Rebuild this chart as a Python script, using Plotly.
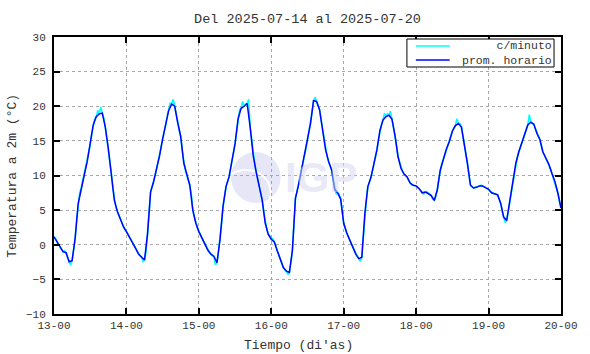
import plotly.graph_objects as go

# ---------------- data ----------------
day_labels = ["13-00", "14-00", "15-00", "16-00", "17-00", "18-00", "19-00", "20-00"]
day_values = [13, 14, 15, 16, 17, 18, 19, 20]
y_ticks = [-10, -5, 0, 5, 10, 15, 20, 25, 30]
series_names = ["c/minuto", "prom. horario"]

# hourly mean temperature (°C), hours 0..23 of each day
hr_d13 = [1.15, 0.4, -0.2, -1.0, -1.15, -2.45, -2.3, 0.9, 5.9, 8.2, 10.0, 12.0, 14.4, 17.3, 18.5, 18.9, 19.0, 17.0, 13.9, 10.3, 6.4, 4.8, 3.8, 2.6]
hr_d14 = [1.9, 1.15, 0.2, -0.5, -1.35, -1.8, -2.2, 1.6, 7.6, 9.1, 11.0, 12.9, 15.3, 17.3, 19.4, 20.3, 20.0, 17.6, 15.6, 11.8, 10.0, 8.6, 5.0, 3.1]
hr_d15 = [1.9, 1.05, 0.2, -0.8, -1.35, -1.7, -2.6, 0.7, 5.5, 8.4, 9.8, 12.0, 14.6, 18.2, 19.7, 20.0, 20.4, 17.0, 12.9, 10.5, 8.6, 6.4, 3.1, 1.5]
hr_d16 = [0.8, 0.4, -0.9, -2.2, -3.3, -3.8, -4.0, -0.8, 6.7, 8.6, 10.8, 12.7, 15.1, 17.5, 20.8, 20.7, 19.5, 16.6, 13.7, 12.0, 10.8, 8.0, 7.5, 6.6]
hr_d17 = [3.1, 1.7, 0.7, -0.2, -1.35, -2.0, -1.8, 4.5, 8.4, 9.7, 11.5, 13.7, 16.5, 18.0, 18.5, 18.7, 18.1, 15.8, 12.7, 11.0, 10.2, 9.8, 8.9, 8.6]
hr_d18 = [8.5, 8.1, 7.5, 7.6, 7.4, 7.1, 6.4, 7.9, 10.8, 12.3, 13.8, 14.9, 16.4, 17.2, 17.5, 17.0, 14.6, 11.7, 8.6, 8.2, 8.3, 8.5, 8.5, 8.3]
hr_d19 = [8.0, 7.5, 7.4, 7.2, 6.0, 4.0, 3.5, 6.2, 9.1, 11.7, 13.4, 14.7, 16.1, 17.3, 17.7, 17.4, 16.1, 15.2, 13.4, 12.5, 11.6, 10.3, 9.1, 7.4]
hr_end = 5.3  # value at 20-00

# per-minute readings sampled at the half hours (h + 0.5)
mn_d13 = [0.9, 0.0, -0.6, -0.9, -1.8, -2.9, -1.0, 3.5, 7.5, 9.2, 11.0, 13.2, 16.0, 18.2, 19.4, 19.9, 18.3, 15.5, 12.0, 8.2, 5.5, 4.3, 3.2, 2.2]
mn_d14 = [1.5, 0.6, -0.2, -1.0, -1.6, -2.4, -1.0, 4.5, 8.4, 10.0, 12.0, 14.1, 16.3, 18.5, 20.5, 21.0, 19.0, 16.5, 13.5, 10.8, 9.2, 7.3, 4.0, 2.5]
mn_d15 = [1.4, 0.6, -0.3, -1.1, -1.6, -2.9, -1.0, 3.0, 7.2, 9.1, 11.0, 13.3, 16.5, 19.5, 20.7, 20.3, 21.0, 15.0, 11.8, 9.5, 7.5, 4.7, 2.3, 1.3]
mn_d16 = [0.9, -0.2, -1.6, -2.8, -3.6, -4.3, -2.6, 3.0, 7.6, 9.7, 11.8, 13.9, 16.3, 19.2, 21.3, 20.2, 18.0, 15.0, 12.8, 11.4, 9.4, 7.3, 7.3, 4.8]
mn_d17 = [2.4, 1.2, 0.2, -0.8, -1.7, -2.4, 1.5, 6.5, 9.0, 10.6, 12.6, 15.1, 17.3, 19.0, 18.9, 19.3, 17.0, 14.3, 12.0, 10.6, 10.0, 9.3, 8.7, 8.6]
mn_d18 = [8.3, 7.8, 7.3, 7.7, 7.2, 6.6, 7.0, 9.5, 11.7, 13.0, 14.4, 15.7, 16.9, 18.2, 17.5, 15.8, 13.2, 10.0, 8.4, 8.3, 8.4, 8.6, 8.4, 8.1]
mn_d19 = [7.7, 7.4, 7.3, 6.6, 4.9, 3.2, 4.8, 7.6, 10.5, 12.6, 14.1, 15.5, 16.9, 18.8, 17.5, 16.8, 15.7, 14.3, 13.0, 12.0, 11.0, 9.6, 8.3, 6.2]

hourly_days = [hr_d13, hr_d14, hr_d15, hr_d16, hr_d17, hr_d18, hr_d19]
minute_days = [mn_d13, mn_d14, mn_d15, mn_d16, mn_d17, mn_d18, mn_d19]

# ---------------- build series ----------------
t_hr, v_hr = [], []
t_mn, v_mn = [], []
for d, hrs, mns in zip(day_values[:-1], hourly_days, minute_days):
    for h in range(24):
        t_hr.append(d + h / 24)
        v_hr.append(hrs[h])
        t_mn.append(d + h / 24)
        v_mn.append(hrs[h])
        t_mn.append(d + (h + 0.5) / 24)
        v_mn.append(mns[h])
t_hr.append(day_values[-1]); v_hr.append(hr_end)
t_mn.append(day_values[-1]); v_mn.append(hr_end)

FONT = "Liberation Mono, Courier New, monospace"
TXT = "#333333"
CYAN = "#00FFFF"
BLUE = "#0000FF"

# pixel helpers for paper coordinates (plot area 54..564 x 37..314)
def px(x):
    return (x - 54) / 510

def py(y):
    return (314 - y) / 277

fig = go.Figure()
fig.add_trace(go.Scatter(x=t_mn, y=v_mn, mode="lines", name=series_names[0],
                         line=dict(color=CYAN, width=1.6), showlegend=False))
fig.add_trace(go.Scatter(x=t_hr, y=v_hr, mode="lines", name=series_names[1],
                         line=dict(color=BLUE, width=1.5), showlegend=False))

# watermark (IGP logo)
fig.add_shape(type="circle", xref="paper", yref="paper",
              x0=px(232), x1=px(282), y0=py(203), y1=py(152),
              fillcolor="#e6e6f7", line=dict(width=0), layer="below")
fig.add_shape(type="circle", xref="paper", yref="paper",
              x0=px(222), x1=px(272), y0=py(215), y1=py(170),
              fillcolor="rgba(255,255,255,0)", line=dict(width=2, color="white"), layer="below")
fig.add_annotation(text="<b>IGP</b>", xref="paper", yref="paper",
                   x=px(323), y=py(177), showarrow=False,
                   font=dict(family="Liberation Sans, Arial, sans-serif", size=42,
                             color="rgba(215,215,240,0.55)"))

# legend drawn as a box with line samples and right-aligned labels
fig.add_shape(type="rect", xref="paper", yref="paper",
              x0=px(409), x1=px(557), y0=py(67), y1=py(39),
              fillcolor="white", line=dict(color="black", width=1), layer="above")
for yy, col in [(46, CYAN), (60, BLUE)]:
    fig.add_shape(type="line", xref="paper", yref="paper",
                  x0=px(418), x1=px(452), y0=py(yy), y1=py(yy),
                  line=dict(color=col, width=1.5), layer="above")
fig.add_annotation(text=series_names[0] + "<br>" + series_names[1], xref="paper", yref="paper",
                   x=px(556), y=py(53), xanchor="right", yanchor="middle", align="right",
                   showarrow=False, borderpad=0,
                   font=dict(family=FONT, size=11.5, color=TXT))

fig.update_layout(
    width=590, height=354,
    margin=dict(l=54, r=26, t=37, b=40),
    paper_bgcolor="white", plot_bgcolor="white",
    font=dict(family=FONT, color=TXT, size=11),
    title=dict(text="Del 2025-07-14 al 2025-07-20", x=0.5, xref="paper", xanchor="center",
               y=1 - 18 / 354, yanchor="middle", font=dict(family=FONT, size=13.5, color=TXT)),
    showlegend=False,
)
fig.update_xaxes(range=[13, 20], tickvals=day_values, ticktext=day_labels,
                 ticks="inside", ticklen=6, tickcolor="black", tickwidth=1.5,
                 showline=True, linecolor="black", linewidth=2, mirror="ticks",
                 showgrid=True, gridcolor="#a8a8a8", griddash="dot", gridwidth=1,
                 zeroline=False, tickfont=dict(family=FONT, size=11, color=TXT))
fig.update_yaxes(range=[-10, 30], tickvals=y_ticks,
                 ticks="inside", ticklen=6, tickcolor="black", tickwidth=1.5,
                 showline=True, linecolor="black", linewidth=2, mirror="ticks",
                 showgrid=True, gridcolor="#a8a8a8", griddash="dot", gridwidth=1,
                 zeroline=False, tickfont=dict(family=FONT, size=11, color=TXT),
                 ticklabelstandoff=4)

fig.add_annotation(text="Temperatura a 2m (\u00b0C)", xref="paper", yref="paper",
                   x=px(12), y=0.5, textangle=-90, showarrow=False,
                   xanchor="center", yanchor="middle",
                   font=dict(family=FONT, size=13, color=TXT))
fig.add_annotation(text="Tiempo (di'as)", xref="paper", yref="paper",
                   x=px(300), y=py(345), showarrow=False,
                   xanchor="center", yanchor="middle",
                   font=dict(family=FONT, size=13, color=TXT))

fig.write_html("out.html", config={"displayModeBar": False},
               post_script="document.body.style.margin='0';")
